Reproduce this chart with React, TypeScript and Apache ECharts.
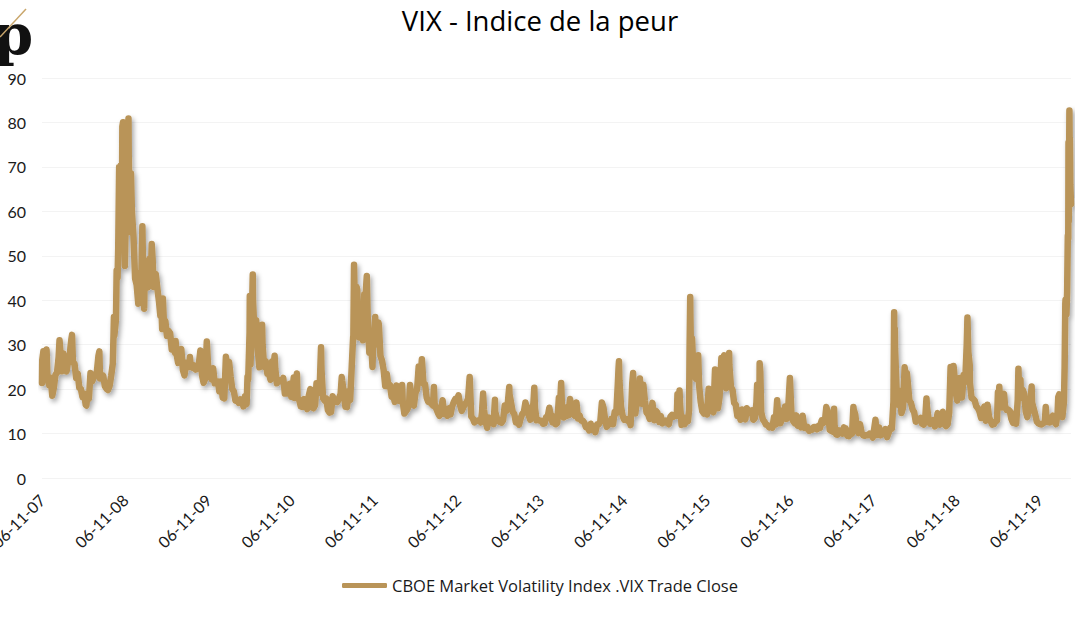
import React, { useEffect, useRef } from "react";
import * as echarts from "echarts";

type Obs = [string, number];

const title = "VIX - Indice de la peur";
const seriesName = "CBOE Market Volatility Index .VIX Trade Close";
const yTicks = [0, 10, 20, 30, 40, 50, 60, 70, 80, 90];
const startDate = "2007-11-06";
const tickYears = ["07", "08", "09", "10", "11", "12", "13", "14", "15", "16", "17", "18", "19"];

const vix2007: Obs[] = [["2007-11-06",21.4],["2007-11-07",26.5],["2007-11-12",28.5],["2007-11-16",25.5],["2007-11-26",28.9],["2007-11-30",22.9],["2007-12-07",20.9],["2007-12-14",22.6],["2007-12-21",18.5],["2007-12-28",20.3]];
const vix2008: Obs[] = [["2008-01-04",23.2],["2008-01-11",23.7],["2008-01-18",27.2],["2008-01-22",31.0],["2008-01-25",29.0],["2008-02-01",24.0],["2008-02-08",28.0],["2008-02-15",25.0],["2008-02-22",24.0],["2008-02-29",26.5],["2008-03-07",27.5],["2008-03-10",29.4],["2008-03-14",31.2],["2008-03-17",32.2],["2008-03-21",26.0],["2008-03-28",25.7],["2008-04-04",22.5],["2008-04-11",23.5],["2008-04-18",20.3],["2008-04-25",20.0],["2008-05-02",18.2],["2008-05-09",19.0],["2008-05-16",16.5],["2008-05-19",16.3],["2008-05-23",18.5],["2008-05-30",17.8],["2008-06-06",23.6],["2008-06-13",21.7],["2008-06-20",22.6],["2008-06-27",23.4],["2008-07-03",23.4],["2008-07-11",27.5],["2008-07-15",28.5],["2008-07-18",22.4],["2008-07-25",22.7],["2008-08-01",23.0],["2008-08-08",20.7],["2008-08-15",20.1],["2008-08-22",19.8],["2008-08-29",20.7],["2008-09-05",23.0],["2008-09-12",25.7],["2008-09-15",31.7],["2008-09-17",36.2],["2008-09-19",32.1],["2008-09-26",35.7],["2008-09-29",46.7],["2008-10-03",45.1],["2008-10-06",52.1],["2008-10-10",69.95],["2008-10-13",54.99],["2008-10-16",67.6],["2008-10-17",70.3],["2008-10-21",53.1],["2008-10-24",79.1],["2008-10-27",80.06],["2008-10-31",59.9],["2008-11-04",47.7],["2008-11-07",56.1],["2008-11-11",61.2],["2008-11-14",66.3],["2008-11-20",80.86],["2008-11-21",72.7],["2008-11-25",60.9],["2008-11-28",55.3],["2008-12-01",68.5],["2008-12-05",59.9],["2008-12-12",54.3],["2008-12-19",44.9],["2008-12-26",43.4]];
const vix2009: Obs[] = [["2009-01-02",39.2],["2009-01-09",43.0],["2009-01-14",46.4],["2009-01-16",46.1],["2009-01-20",56.65],["2009-01-23",47.3],["2009-01-28",38.1],["2009-01-30",44.8],["2009-02-06",43.4],["2009-02-13",42.9],["2009-02-17",48.7],["2009-02-20",49.3],["2009-02-27",46.4],["2009-03-02",52.65],["2009-03-06",49.3],["2009-03-10",43.0],["2009-03-13",43.4],["2009-03-20",45.9],["2009-03-27",42.6],["2009-04-03",39.7],["2009-04-09",36.5],["2009-04-14",37.9],["2009-04-17",33.5],["2009-04-20",40.4],["2009-04-24",35.8],["2009-05-01",35.3],["2009-05-08",32.0],["2009-05-15",33.1],["2009-05-22",32.6],["2009-05-29",28.9],["2009-06-05",29.6],["2009-06-12",28.2],["2009-06-15",30.8],["2009-06-19",27.9],["2009-06-26",25.9],["2009-07-02",27.95],["2009-07-10",29.0],["2009-07-17",24.3],["2009-07-24",23.1],["2009-07-31",25.9],["2009-08-07",25.4],["2009-08-14",25.0],["2009-08-17",27.2],["2009-08-21",25.0],["2009-08-28",24.8],["2009-09-04",25.3],["2009-09-11",24.4],["2009-09-18",24.6],["2009-09-25",25.6],["2009-10-02",28.7],["2009-10-09",23.1],["2009-10-16",21.4],["2009-10-23",22.3],["2009-10-30",30.7],["2009-11-06",24.2],["2009-11-13",23.4],["2009-11-20",22.2],["2009-11-27",24.7],["2009-12-04",21.3],["2009-12-11",21.6],["2009-12-18",21.7],["2009-12-24",19.5],["2009-12-31",21.7]];
const vix2010: Obs[] = [["2010-01-08",18.1],["2010-01-15",17.9],["2010-01-22",27.3],["2010-01-29",24.6],["2010-02-05",26.1],["2010-02-12",22.7],["2010-02-19",20.0],["2010-02-26",19.5],["2010-03-05",17.4],["2010-03-12",17.6],["2010-03-19",16.9],["2010-03-26",17.7],["2010-04-02",17.5],["2010-04-09",16.1],["2010-04-16",18.4],["2010-04-23",16.6],["2010-04-27",22.8],["2010-04-30",22.1],["2010-05-06",32.8],["2010-05-07",40.95],["2010-05-10",25.5],["2010-05-14",31.2],["2010-05-20",45.8],["2010-05-21",40.1],["2010-05-28",32.1],["2010-06-04",35.5],["2010-06-11",28.8],["2010-06-18",24.9],["2010-06-25",28.5],["2010-06-30",34.5],["2010-07-02",30.1],["2010-07-09",25.0],["2010-07-16",26.3],["2010-07-23",23.5],["2010-07-30",23.5],["2010-08-06",22.1],["2010-08-13",26.2],["2010-08-20",25.5],["2010-08-24",27.5],["2010-08-27",24.5],["2010-09-03",21.3],["2010-09-10",22.0],["2010-09-17",22.0],["2010-09-24",21.7],["2010-10-01",22.5],["2010-10-08",19.0],["2010-10-15",19.0],["2010-10-22",19.1],["2010-10-29",21.2],["2010-11-05",18.3],["2010-11-12",20.6],["2010-11-16",22.6],["2010-11-19",18.0],["2010-11-26",22.2],["2010-11-30",23.5],["2010-12-03",18.0],["2010-12-10",17.6],["2010-12-17",16.1],["2010-12-23",16.0],["2010-12-31",17.75]];
const vix2011: Obs[] = [["2011-01-07",17.1],["2011-01-14",15.5],["2011-01-21",18.5],["2011-01-28",20.0],["2011-02-04",15.9],["2011-02-11",15.7],["2011-02-18",16.4],["2011-02-24",21.3],["2011-03-04",19.1],["2011-03-11",21.9],["2011-03-16",29.4],["2011-03-18",24.4],["2011-03-25",17.9],["2011-04-01",17.4],["2011-04-08",17.9],["2011-04-15",15.3],["2011-04-22",14.7],["2011-04-29",14.8],["2011-05-06",18.4],["2011-05-13",17.1],["2011-05-20",17.4],["2011-05-27",17.1],["2011-06-03",17.95],["2011-06-10",18.9],["2011-06-15",22.7],["2011-06-17",21.8],["2011-06-24",19.2],["2011-07-01",16.0],["2011-07-08",15.95],["2011-07-15",19.5],["2011-07-22",17.5],["2011-07-29",25.25],["2011-08-04",31.7],["2011-08-05",32.0],["2011-08-08",48.0],["2011-08-10",42.99],["2011-08-12",36.4],["2011-08-16",32.9],["2011-08-19",43.05],["2011-08-22",42.4],["2011-08-26",35.6],["2011-08-31",31.6],["2011-09-02",33.9],["2011-09-09",38.5],["2011-09-16",31.0],["2011-09-22",41.35],["2011-09-23",41.25],["2011-09-27",38.8],["2011-09-30",43.0],["2011-10-03",45.45],["2011-10-07",36.2],["2011-10-14",28.2],["2011-10-21",31.3],["2011-10-28",25.0],["2011-10-31",29.96],["2011-11-04",30.5],["2011-11-09",36.2],["2011-11-11",30.0],["2011-11-18",32.0],["2011-11-23",35.0],["2011-11-25",34.5],["2011-12-02",27.5],["2011-12-09",26.4],["2011-12-16",24.3],["2011-12-23",20.7],["2011-12-30",23.4]];
const vix2012: Obs[] = [["2012-01-06",20.6],["2012-01-13",20.9],["2012-01-20",18.3],["2012-01-27",18.5],["2012-02-03",17.1],["2012-02-10",20.8],["2012-02-17",17.8],["2012-02-24",17.3],["2012-03-02",17.3],["2012-03-06",20.9],["2012-03-09",17.1],["2012-03-16",14.5],["2012-03-23",15.0],["2012-03-30",15.5],["2012-04-06",16.7],["2012-04-10",20.9],["2012-04-13",19.6],["2012-04-20",17.4],["2012-04-27",16.3],["2012-05-04",19.2],["2012-05-11",19.9],["2012-05-18",25.1],["2012-05-25",21.8],["2012-06-01",26.7],["2012-06-08",21.2],["2012-06-15",21.1],["2012-06-22",18.1],["2012-06-29",17.1],["2012-07-06",17.1],["2012-07-13",16.7],["2012-07-20",16.3],["2012-07-24",20.5],["2012-07-27",16.7],["2012-08-03",15.6],["2012-08-10",14.7],["2012-08-17",14.0],["2012-08-24",15.2],["2012-08-31",17.5],["2012-09-07",14.4],["2012-09-14",14.5],["2012-09-21",14.0],["2012-09-28",15.7],["2012-10-05",14.3],["2012-10-12",16.1],["2012-10-19",17.1],["2012-10-26",17.8],["2012-11-02",17.6],["2012-11-09",18.6],["2012-11-16",16.4],["2012-11-23",15.1],["2012-11-30",15.9],["2012-12-07",16.6],["2012-12-14",17.0],["2012-12-21",17.8],["2012-12-28",22.7]];
const vix2013: Obs[] = [["2013-01-04",13.8],["2013-01-11",13.4],["2013-01-18",12.5],["2013-01-25",12.9],["2013-02-01",12.9],["2013-02-08",13.0],["2013-02-15",12.5],["2013-02-20",14.7],["2013-02-25",18.99],["2013-03-01",15.4],["2013-03-08",12.6],["2013-03-15",11.3],["2013-03-22",13.6],["2013-03-29",12.7],["2013-04-05",12.9],["2013-04-12",12.1],["2013-04-18",17.6],["2013-04-19",14.97],["2013-04-26",13.6],["2013-05-03",12.85],["2013-05-10",12.6],["2013-05-17",12.45],["2013-05-24",13.0],["2013-05-31",16.3],["2013-06-07",15.1],["2013-06-14",17.15],["2013-06-20",20.5],["2013-06-21",18.9],["2013-06-28",16.9],["2013-07-05",14.9],["2013-07-12",14.4],["2013-07-19",12.5],["2013-07-26",12.7],["2013-08-02",12.0],["2013-08-09",13.4],["2013-08-16",14.4],["2013-08-23",14.8],["2013-08-30",17.0],["2013-09-06",15.4],["2013-09-13",14.2],["2013-09-20",13.1],["2013-09-27",15.7],["2013-10-04",16.7],["2013-10-08",20.3],["2013-10-11",15.7],["2013-10-18",13.0],["2013-10-25",13.1],["2013-11-01",12.9],["2013-11-08",12.9],["2013-11-15",12.2],["2013-11-22",12.3],["2013-11-29",13.7],["2013-12-06",13.8],["2013-12-13",15.8],["2013-12-20",13.8],["2013-12-27",12.5]];
const vix2014: Obs[] = [["2014-01-03",13.8],["2014-01-10",12.1],["2014-01-17",12.4],["2014-01-24",18.1],["2014-01-31",18.4],["2014-02-03",21.4],["2014-02-07",15.3],["2014-02-14",13.6],["2014-02-21",14.7],["2014-02-28",14.0],["2014-03-03",16.0],["2014-03-07",14.1],["2014-03-14",17.8],["2014-03-21",15.0],["2014-03-28",14.4],["2014-04-04",14.0],["2014-04-11",17.0],["2014-04-18",13.4],["2014-04-25",14.1],["2014-05-02",12.9],["2014-05-09",12.9],["2014-05-16",12.4],["2014-05-23",11.4],["2014-05-30",11.4],["2014-06-06",10.7],["2014-06-13",12.2],["2014-06-20",10.85],["2014-06-27",11.3],["2014-07-03",10.3],["2014-07-11",12.1],["2014-07-18",12.1],["2014-07-25",12.7],["2014-08-01",17.0],["2014-08-08",15.8],["2014-08-15",13.2],["2014-08-22",11.5],["2014-08-29",12.0],["2014-09-05",12.1],["2014-09-12",13.3],["2014-09-19",12.1],["2014-09-26",14.85],["2014-10-03",14.55],["2014-10-10",21.2],["2014-10-13",24.6],["2014-10-15",26.25],["2014-10-17",22.0],["2014-10-24",16.1],["2014-10-31",14.0],["2014-11-07",13.1],["2014-11-14",13.3],["2014-11-21",12.9],["2014-11-28",13.3],["2014-12-05",11.9],["2014-12-12",21.1],["2014-12-16",23.6],["2014-12-19",16.5],["2014-12-26",14.5]];
const vix2015: Obs[] = [["2015-01-02",17.8],["2015-01-09",17.6],["2015-01-15",22.4],["2015-01-16",21.0],["2015-01-23",16.7],["2015-01-30",21.0],["2015-02-06",17.3],["2015-02-13",14.7],["2015-02-20",14.3],["2015-02-27",13.3],["2015-03-06",15.2],["2015-03-11",16.9],["2015-03-13",16.0],["2015-03-20",13.0],["2015-03-27",15.1],["2015-04-02",14.7],["2015-04-10",12.6],["2015-04-17",13.9],["2015-04-24",12.3],["2015-05-01",12.7],["2015-05-08",12.9],["2015-05-15",12.4],["2015-05-22",12.1],["2015-05-29",13.8],["2015-06-05",14.2],["2015-06-12",13.8],["2015-06-19",14.0],["2015-06-26",14.0],["2015-06-29",18.85],["2015-07-02",16.1],["2015-07-08",19.7],["2015-07-10",16.8],["2015-07-17",11.95],["2015-07-24",13.7],["2015-07-31",12.1],["2015-08-07",13.4],["2015-08-14",12.8],["2015-08-19",15.25],["2015-08-21",28.0],["2015-08-24",40.7],["2015-08-25",36.0],["2015-08-28",26.05],["2015-09-01",31.4],["2015-09-04",27.8],["2015-09-11",23.2],["2015-09-18",22.3],["2015-09-25",23.6],["2015-09-28",27.6],["2015-10-02",20.9],["2015-10-09",17.1],["2015-10-16",15.05],["2015-10-23",14.5],["2015-10-30",15.1],["2015-11-06",14.3],["2015-11-13",20.1],["2015-11-20",15.5],["2015-11-27",15.1],["2015-12-04",14.8],["2015-12-11",24.4],["2015-12-14",22.7],["2015-12-18",20.7],["2015-12-24",15.7],["2015-12-31",18.2]];
const vix2016: Obs[] = [["2016-01-08",27.0],["2016-01-15",27.0],["2016-01-20",27.6],["2016-01-22",22.3],["2016-01-29",20.2],["2016-02-05",23.4],["2016-02-11",28.1],["2016-02-12",25.4],["2016-02-19",20.5],["2016-02-26",19.8],["2016-03-04",16.9],["2016-03-11",16.5],["2016-03-18",14.0],["2016-03-25",14.7],["2016-04-01",13.1],["2016-04-08",15.4],["2016-04-15",13.6],["2016-04-22",13.2],["2016-04-29",15.7],["2016-05-06",14.7],["2016-05-13",15.0],["2016-05-20",15.2],["2016-05-27",13.1],["2016-06-03",13.5],["2016-06-10",17.0],["2016-06-13",20.97],["2016-06-17",19.4],["2016-06-23",17.25],["2016-06-24",25.8],["2016-06-27",23.85],["2016-07-01",14.8],["2016-07-08",13.2],["2016-07-15",12.7],["2016-07-22",12.0],["2016-07-29",11.9],["2016-08-05",11.4],["2016-08-12",11.6],["2016-08-19",11.3],["2016-08-26",13.65],["2016-09-02",12.0],["2016-09-09",17.5],["2016-09-12",15.2],["2016-09-16",15.4],["2016-09-23",12.3],["2016-09-30",13.3],["2016-10-07",13.5],["2016-10-14",16.1],["2016-10-21",13.3],["2016-10-28",16.2],["2016-11-04",22.5],["2016-11-11",14.2],["2016-11-18",12.85],["2016-11-25",12.3],["2016-12-02",14.1],["2016-12-09",11.75],["2016-12-16",12.2],["2016-12-23",11.4],["2016-12-30",14.0]];
const vix2017: Obs[] = [["2017-01-06",11.3],["2017-01-13",11.2],["2017-01-20",11.5],["2017-01-27",10.6],["2017-02-03",10.97],["2017-02-10",10.85],["2017-02-17",11.5],["2017-02-24",11.5],["2017-03-03",10.96],["2017-03-10",11.7],["2017-03-17",11.3],["2017-03-21",12.5],["2017-03-24",12.96],["2017-03-31",12.4],["2017-04-07",12.9],["2017-04-13",15.96],["2017-04-21",14.6],["2017-04-28",10.8],["2017-05-05",10.6],["2017-05-12",10.4],["2017-05-17",15.6],["2017-05-19",12.0],["2017-05-26",9.8],["2017-06-02",9.75],["2017-06-09",10.7],["2017-06-16",10.4],["2017-06-23",10.0],["2017-06-29",11.4],["2017-06-30",11.2],["2017-07-07",11.2],["2017-07-14",9.5],["2017-07-21",9.4],["2017-07-28",10.3],["2017-08-04",10.0],["2017-08-10",16.0],["2017-08-11",15.5],["2017-08-18",14.3],["2017-08-25",11.3],["2017-09-01",10.1],["2017-09-08",12.1],["2017-09-15",10.2],["2017-09-22",9.6],["2017-09-29",9.5],["2017-10-06",9.65],["2017-10-13",9.6],["2017-10-20",10.0],["2017-10-27",9.8],["2017-11-03",9.1],["2017-11-10",11.3],["2017-11-15",13.1],["2017-11-17",11.8],["2017-11-24",9.7],["2017-12-01",11.4],["2017-12-08",9.6],["2017-12-15",10.5],["2017-12-22",9.9],["2017-12-29",11.0]];
const vix2018: Obs[] = [["2018-01-05",9.2],["2018-01-12",10.2],["2018-01-19",11.3],["2018-01-26",11.1],["2018-02-02",17.3],["2018-02-05",37.3],["2018-02-06",29.98],["2018-02-08",33.5],["2018-02-09",29.1],["2018-02-16",19.5],["2018-02-23",16.5],["2018-03-02",19.6],["2018-03-09",14.6],["2018-03-16",15.8],["2018-03-23",24.9],["2018-03-28",22.9],["2018-04-02",23.6],["2018-04-06",21.5],["2018-04-13",17.4],["2018-04-20",16.9],["2018-04-27",15.4],["2018-05-04",14.8],["2018-05-11",12.65],["2018-05-18",13.4],["2018-05-25",13.2],["2018-06-01",13.5],["2018-06-08",12.2],["2018-06-15",12.0],["2018-06-22",13.8],["2018-06-27",17.9],["2018-06-29",16.1],["2018-07-06",13.4],["2018-07-13",12.2],["2018-07-20",12.9],["2018-07-27",13.0],["2018-08-03",11.6],["2018-08-10",13.2],["2018-08-15",14.6],["2018-08-17",12.6],["2018-08-24",12.0],["2018-08-31",12.9],["2018-09-07",14.9],["2018-09-14",12.1],["2018-09-21",11.7],["2018-09-28",12.1],["2018-10-05",14.8],["2018-10-11",24.98],["2018-10-12",21.3],["2018-10-19",19.9],["2018-10-24",25.2],["2018-10-26",24.2],["2018-11-02",19.5],["2018-11-09",17.4],["2018-11-12",20.45],["2018-11-16",18.1],["2018-11-20",22.5],["2018-11-23",21.5],["2018-11-30",18.1],["2018-12-04",20.7],["2018-12-07",23.2],["2018-12-14",21.6],["2018-12-21",30.1],["2018-12-24",36.1],["2018-12-28",28.3]];
const vix2019: Obs[] = [["2019-01-03",25.45],["2019-01-04",21.4],["2019-01-11",18.0],["2019-01-18",17.8],["2019-01-25",17.4],["2019-02-01",16.1],["2019-02-08",15.7],["2019-02-15",14.9],["2019-02-22",13.5],["2019-03-01",14.6],["2019-03-08",16.1],["2019-03-15",12.9],["2019-03-22",16.5],["2019-03-29",13.7],["2019-04-05",12.8],["2019-04-12",12.0],["2019-04-19",12.1],["2019-04-26",12.7],["2019-05-03",12.9],["2019-05-07",19.3],["2019-05-10",16.0],["2019-05-13",20.55],["2019-05-17",16.0],["2019-05-24",15.9],["2019-05-31",18.7],["2019-06-03",18.9],["2019-06-07",16.3],["2019-06-14",15.3],["2019-06-21",15.4],["2019-06-28",15.1],["2019-07-05",13.3],["2019-07-12",12.4],["2019-07-19",14.5],["2019-07-26",12.2],["2019-08-02",17.6],["2019-08-05",24.6],["2019-08-09",18.0],["2019-08-14",22.1],["2019-08-16",18.5],["2019-08-23",19.9],["2019-08-30",19.0],["2019-09-06",15.0],["2019-09-13",13.7],["2019-09-20",15.3],["2019-09-27",17.2],["2019-10-02",20.6],["2019-10-04",17.0],["2019-10-11",15.6],["2019-10-18",14.25],["2019-10-25",12.65],["2019-11-01",12.3],["2019-11-08",12.07],["2019-11-15",12.05],["2019-11-22",12.3],["2019-11-29",12.6],["2019-12-03",15.96],["2019-12-06",13.6],["2019-12-13",12.6],["2019-12-20",12.5],["2019-12-27",13.4]];
const vix2020: Obs[] = [["2020-01-03",14.0],["2020-01-10",12.6],["2020-01-17",12.1],["2020-01-24",14.6],["2020-01-27",18.2],["2020-01-31",18.8],["2020-02-07",15.5],["2020-02-14",13.7],["2020-02-21",17.1],["2020-02-24",25.0],["2020-02-27",39.2],["2020-02-28",40.1],["2020-03-03",36.8],["2020-03-06",41.9],["2020-03-09",54.5],["2020-03-11",53.9],["2020-03-12",75.5],["2020-03-13",57.8],["2020-03-16",82.7],["2020-03-17",75.9],["2020-03-18",76.45],["2020-03-19",72.0],["2020-03-20",66.0],["2020-03-23",61.6]];

const allObs: Obs[] = [
  ...vix2007, ...vix2008, ...vix2009, ...vix2010, ...vix2011, ...vix2012, ...vix2013,
  ...vix2014, ...vix2015, ...vix2016, ...vix2017, ...vix2018, ...vix2019, ...vix2020,
];

const DAY = 86400000;
const YEAR_DAYS = 365.25;
const utc = (s: string) => {
  const [y, m, d] = s.split("-").map(Number);
  return Date.UTC(y, m - 1, d);
};
const START = utc(startDate);

export default function App() {
  const ref = useRef<HTMLDivElement>(null);

  useEffect(() => {
    if (!ref.current) return;
    const chart = echarts.init(ref.current, undefined, { renderer: "svg" });
    const data = allObs.map(([d, v]) => [(utc(d) - START) / DAY, v]);
    const font = "Lato, 'Open Sans', sans-serif";
    const font2 = "'Open Sans', Lato, sans-serif";
    const gold = "#B99458";

    chart.setOption({
      animation: false,
      backgroundColor: "#ffffff",
      title: {
        text: title,
        left: "center",
        top: 1,
        textStyle: { fontFamily: font2, fontSize: 27.5, fontWeight: "normal", color: "#000" },
      },
      legend: {
        data: [seriesName],
        left: "center",
        top: 572,
        icon: "roundRect",
        itemWidth: 45,
        itemHeight: 5,
        textStyle: { fontFamily: font2, fontSize: 16.5, color: "#1a1a1a" },
      },
      grid: { left: 42, right: 9, top: 78, bottom: 139, containLabel: false, outerBoundsMode: "none" },
      xAxis: {
        type: "value",
        min: 0,
        max: "dataMax",
        interval: YEAR_DAYS,
        axisLine: { show: false },
        axisTick: { show: false },
        splitLine: { show: false },
        axisLabel: {
          rotate: 45,
          margin: 19,
          showMaxLabel: false,
          hideOverlap: false,
          fontFamily: font,
          fontSize: 16,
          color: "#1a1a1a",
          formatter: (v: number) => {
            const k = Math.round(v / YEAR_DAYS);
            if (Math.abs(v - k * YEAR_DAYS) > 1 || k >= tickYears.length) return "";
            return "06-11-" + tickYears[k];
          },
        },
      },
      yAxis: {
        type: "value",
        min: yTicks[0],
        max: yTicks[yTicks.length - 1],
        interval: 10,
        axisLine: { show: false },
        axisTick: { show: false },
        splitLine: { show: true, lineStyle: { color: "#f3f3f3", width: 1 } },
        axisLabel: { margin: 16, fontFamily: font, fontSize: 16, color: "#1a1a1a" },
      },
      series: [
        {
          name: seriesName,
          type: "line",
          data,
          symbol: "none",
          showSymbol: false,
          itemStyle: { color: gold },
          lineStyle: {
            color: gold,
            width: 6.5,
            cap: "round",
            join: "round",
            shadowColor: "rgba(0,0,0,0.35)",
            shadowBlur: 5,
            shadowOffsetX: 2,
            shadowOffsetY: 3,
          },
        },
      ],
      graphic: [
        {
          type: "text",
          left: -6,
          top: 6,
          style: {
            text: "p",
            font: "bold 56px 'DejaVu Serif', serif",
            fill: "#111",
          },
        },
        {
          type: "line",
          shape: { x1: 0, y1: 37, x2: 26, y2: 9 },
          style: { stroke: "#C9A66B", lineWidth: 1.5 },
        },
      ],
    });

    return () => chart.dispose();
  }, []);

  return (
    <div
      ref={ref}
      style={{ position: "fixed", left: 0, top: 0, width: 1080, height: 617, background: "#fff" }}
    />
  );
}
